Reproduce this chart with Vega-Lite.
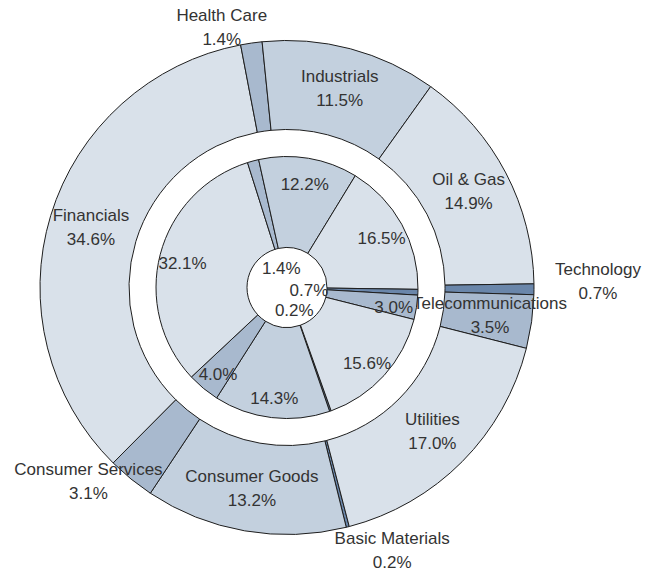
{
  "$schema": "https://vega.github.io/schema/vega-lite/v6.json",
  "width": 574,
  "height": 575,
  "autosize": {"type": "none"},
  "padding": {"left": 0, "top": 0, "right": 81, "bottom": 0},
  "background": "white",
  "config": {
    "view": {"stroke": null},
    "text": {"font": "Liberation Sans, Arial, sans-serif", "fontSize": 17, "color": "#333333"}
  },
  "data": {
    "values": [
      {"ring": "outer", "sector": "Basic Materials", "value": 0.2},
      {"ring": "outer", "sector": "Consumer Goods", "value": 13.2},
      {"ring": "outer", "sector": "Consumer Services", "value": 3.1},
      {"ring": "outer", "sector": "Financials", "value": 34.6},
      {"ring": "outer", "sector": "Health Care", "value": 1.4},
      {"ring": "outer", "sector": "Industrials", "value": 11.5},
      {"ring": "outer", "sector": "Oil & Gas", "value": 14.9},
      {"ring": "outer", "sector": "Technology", "value": 0.7},
      {"ring": "outer", "sector": "Telecommunications", "value": 3.5},
      {"ring": "outer", "sector": "Utilities", "value": 17.0},
      {"ring": "inner", "sector": "Basic Materials", "value": 0.2},
      {"ring": "inner", "sector": "Consumer Goods", "value": 14.3},
      {"ring": "inner", "sector": "Consumer Services", "value": 4.0},
      {"ring": "inner", "sector": "Financials", "value": 32.1},
      {"ring": "inner", "sector": "Health Care", "value": 1.4},
      {"ring": "inner", "sector": "Industrials", "value": 12.2},
      {"ring": "inner", "sector": "Oil & Gas", "value": 16.5},
      {"ring": "inner", "sector": "Technology", "value": 0.7},
      {"ring": "inner", "sector": "Telecommunications", "value": 3.0},
      {"ring": "inner", "sector": "Utilities", "value": 15.6}
    ]
  },
  "transform": [
    {"calculate": "datum.sector + '\\n' + format(datum.value, '.1f') + '%'", "as": "label"},
    {"calculate": "format(datum.value, '.1f') + '%'", "as": "pct"}
  ],
  "layer": [
    {
      "transform": [{"filter": "datum.ring == 'outer'"}],
      "encoding": {
        "theta": {"field": "value", "type": "quantitative", "stack": true, "scale": {"range": [2.8868, 9.17]}},
        "order": {"field": "sector", "type": "ordinal"}
      },
      "layer": [
        {
          "mark": {"type": "arc", "outerRadius": 247, "innerRadius": 158, "stroke": "#1e1e1e", "strokeWidth": 1},
          "encoding": {
            "color": {
              "field": "sector", "type": "nominal", "legend": null,
              "scale": {
                "domain": ["Basic Materials", "Consumer Goods", "Consumer Services", "Financials", "Health Care", "Industrials", "Oil & Gas", "Technology", "Telecommunications", "Utilities"],
                "range": ["#6a86aa", "#c3d0de", "#a8b9ce", "#d9e1ea", "#a8b9ce", "#c3d0de", "#d9e1ea", "#6a86aa", "#a8b9ce", "#d9e1ea"]
              }
            }
          }
        },
        {
          "mark": {"type": "text", "lineBreak": "\n", "lineHeight": 24, "baseline": "middle", "dy": -12, "radius": 205},
          "encoding": {"text": {"condition": {"test": "datum.value >= 3.5", "field": "label"}, "value": ""}}
        },
        {
          "mark": {
            "type": "text", "lineBreak": "\n", "lineHeight": 24, "baseline": "middle", "align": "center", "dy": -12,
            "radius": {"expr": "datum.sector == 'Health Care' ? 268 : datum.sector == 'Basic Materials' ? 284 : datum.sector == 'Consumer Services' ? 278 : 311"},
            "thetaOffset": {"expr": "datum.sector == 'Health Care' ? -0.101 : datum.sector == 'Basic Materials' ? -0.131 : datum.sector == 'Consumer Services' ? 0.112 : -0.025"}
          },
          "encoding": {"text": {"condition": {"test": "datum.value < 3.5", "field": "label"}, "value": ""}}
        }
      ]
    },
    {
      "transform": [{"filter": "datum.ring == 'inner'"}],
      "encoding": {
        "theta": {"field": "value", "type": "quantitative", "stack": true, "scale": {"range": [2.7977, 9.0809]}},
        "order": {"field": "sector", "type": "ordinal"}
      },
      "layer": [
        {
          "mark": {"type": "arc", "outerRadius": 131, "innerRadius": 40, "stroke": "#1e1e1e", "strokeWidth": 1},
          "encoding": {"color": {"field": "sector", "type": "nominal", "legend": null}}
        },
        {
          "mark": {"type": "text", "radius": 108, "baseline": "middle", "dy": 4},
          "encoding": {"text": {"condition": {"test": "datum.value >= 2", "field": "pct"}, "value": ""}}
        },
        {
          "mark": {"type": "text", "radius": 22, "baseline": "middle", "dy": 3},
          "encoding": {"text": {"condition": {"test": "datum.value < 2", "field": "pct"}, "value": ""}}
        }
      ]
    }
  ],
  "resolve": {"scale": {"theta": "independent"}}
}
